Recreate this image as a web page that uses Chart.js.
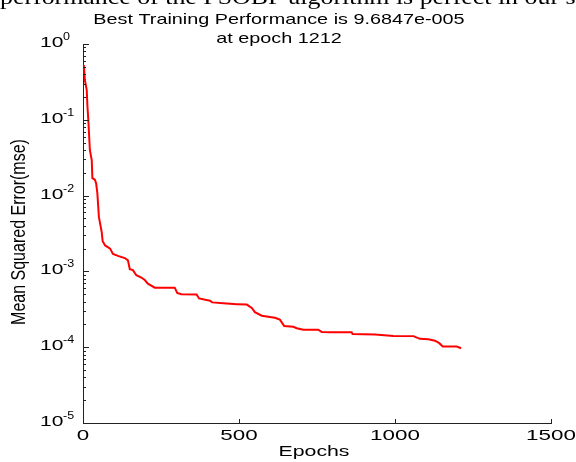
<!DOCTYPE html>
<html>
<head>
<meta charset="utf-8">
<script src="https://cdn.jsdelivr.net/npm/chart.js@4"></script>
<style>
  html, body { margin: 0; padding: 0; background: #fff; }
  #wrap { width: 576px; height: 462px; }
</style>
</head>
<body>
<div id="wrap"><canvas id="c" width="576" height="462"></canvas></div>
<script>
// ---- data ----
const epochs = [0, 3, 6, 12, 14, 17, 22, 28, 30, 38, 42, 46, 51, 60, 63, 71, 87, 96, 112, 134,
  144, 150, 160, 171, 187, 198, 208, 230, 294, 302, 315, 364, 372, 407, 414, 450, 493, 525,
  541, 551, 573, 615, 631, 645, 674, 685, 706, 754, 765, 792, 861, 864, 936, 995, 1059, 1080,
  1107, 1128, 1142, 1153, 1198, 1212];
const mse = [0.53, 0.50, 0.335, 0.247, 0.157, 0.100, 0.040, 0.0295, 0.017, 0.0162, 0.0146, 0.0108,
  0.0052, 0.0033, 0.0025, 0.0022, 0.0020, 0.0017, 0.0016, 0.0015,
  0.0014, 0.00107, 0.00104, 0.00089, 0.00083, 0.00077, 0.00069, 0.00061, 0.00061, 0.00052, 0.0005,
  0.000495, 0.00044, 0.00041, 0.00039, 0.00038, 0.00037, 0.000365,
  0.00033, 0.00029, 0.00026, 0.000245, 0.000231, 0.00019, 0.000186, 0.000178, 0.00017, 0.00017,
  0.000159, 0.000158, 0.000157, 0.000149, 0.000147, 0.000141, 0.00014, 0.000129,
  0.000127, 0.000122, 0.000113, 0.000102, 0.000102, 0.0000968];
const xTicks = [0, 500, 1000, 1500];
const yTickExponents = [0, -1, -2, -3, -4, -5];
const titleLines = ["Best Training Performance is 9.6847e-005", "at epoch 1212"];
const xTitle = "Epochs";
const yTitle = "Mean Squared Error(mse)";
const paperText = "performance of the PSOBP algorithm is perfect in our sta";

const points = epochs.map((e, i) => ({ x: e, y: mse[i] }));

function sText(ctx, text, x, y, font, sx, align) {
  ctx.save();
  ctx.font = font;
  ctx.translate(x, y);
  ctx.scale(sx, 1);
  ctx.textAlign = align;
  ctx.textBaseline = 'alphabetic';
  ctx.fillText(text, 0, 0);
  ctx.restore();
}

const deco = {
  id: 'deco',
  afterDraw(chart) {
    const ctx = chart.ctx;
    const xs = chart.scales.x, ys = chart.scales.y;
    const L = chart.chartArea.left, B = chart.chartArea.bottom;
    ctx.save();
    ctx.fillStyle = '#000';
    ctx.strokeStyle = '#222';
    ctx.lineWidth = 1;

    // cropped paper text at the very top
    ctx.font = '22px "Liberation Serif"';
    const w = ctx.measureText("performance of the PSOBP algorithm is perfect in our").width;
    sText(ctx, paperText, 0, 4, '22px "Liberation Serif"', 559 / w, 'left');

    // title
    sText(ctx, titleLines[0], 279, 24, '15px "Liberation Sans"', 1.32, 'center');
    sText(ctx, titleLines[1], 279, 43, '15px "Liberation Sans"', 1.32, 'center');

    // y ticks (major + minor, inward)
    ctx.beginPath();
    yTickExponents.forEach(k => {
      const py = Math.round(ys.getPixelForValue(Math.pow(10, k))) + 0.5;
      ctx.moveTo(L, py); ctx.lineTo(L + 6, py);
      if (k < 0) {
        for (let m = 2; m <= 9; m++) {
          const v = m * Math.pow(10, k);
          const pm = Math.round(ys.getPixelForValue(v)) + 0.5;
          ctx.moveTo(L, pm); ctx.lineTo(L + 3, pm);
        }
      }
    });
    // x ticks (inward)
    xTicks.forEach(t => {
      const px = Math.round(xs.getPixelForValue(t)) + 0.5;
      ctx.moveTo(px, B); ctx.lineTo(px, B - 4);
    });
    ctx.stroke();

    // y tick labels 10^k
    yTickExponents.forEach(k => {
      const py = ys.getPixelForValue(Math.pow(10, k));
      sText(ctx, '10', 40, py + 3, '14px "Liberation Sans"', 1.5, 'left');
      sText(ctx, String(k), 63, py - 4, '10px "Liberation Sans"', 1.25, 'left');
    });
    // x tick labels
    xTicks.forEach(t => {
      const px = xs.getPixelForValue(t);
      sText(ctx, String(t), px, 439.5, '14px "Liberation Sans"', 1.6, 'center');
    });
    // axis titles
    sText(ctx, xTitle, 314, 456, '15px "Liberation Sans"', 1.42, 'center');
    ctx.save();
    ctx.font = '16px "Liberation Sans"';
    ctx.translate(25, 232);
    ctx.scale(1.3, 1);
    ctx.rotate(-Math.PI / 2);
    ctx.textAlign = 'center';
    ctx.textBaseline = 'alphabetic';
    ctx.fillText(yTitle, 0, 0);
    ctx.restore();
    ctx.restore();
  }
};

new Chart(document.getElementById('c'), {
  type: 'line',
  data: {
    datasets: [{
      data: points,
      borderColor: '#ff0000',
      borderWidth: 2,
      pointRadius: 0,
      fill: false,
      tension: 0
    }]
  },
  options: {
    responsive: false,
    devicePixelRatio: 1,
    animation: false,
    layout: { padding: { top: 44, right: 25, left: 0, bottom: 0 } },
    plugins: { legend: { display: false }, tooltip: { enabled: false }, title: { display: false } },
    scales: {
      x: {
        type: 'linear', min: 0, max: 1500,
        grid: { display: false },
        border: { display: true, color: '#222', width: 1 },
        ticks: { display: false },
        afterFit: s => { s.height = 39; }
      },
      y: {
        type: 'logarithmic', min: 1e-5, max: 1,
        grid: { display: false },
        border: { display: true, color: '#222', width: 1 },
        ticks: { display: false },
        afterFit: s => { s.width = 83; }
      }
    }
  },
  plugins: [deco]
});
</script>
</body>
</html>
